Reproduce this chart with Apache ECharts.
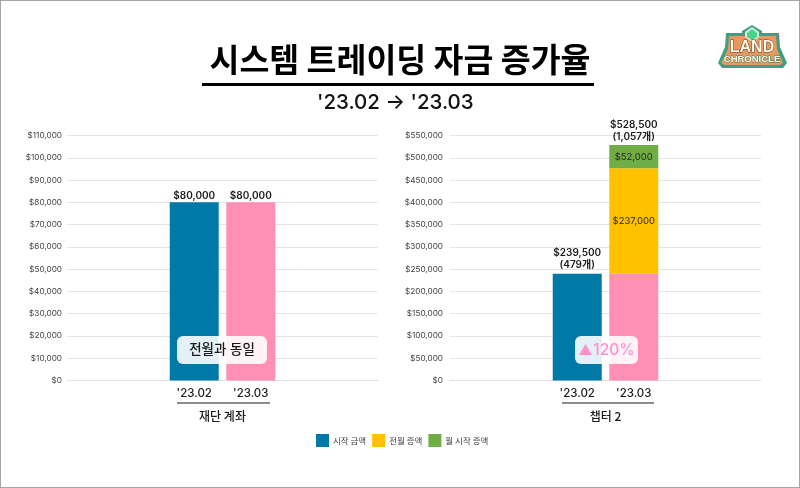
<!DOCTYPE html>
<html>
<head>
<meta charset="utf-8">
<style>
html, body { margin: 0; padding: 0; background: #fff; }
#main { width: 800px; height: 488px; }
#frame { position: absolute; left: 0; top: 0; width: 800px; height: 488px; box-sizing: border-box; border: 1px solid #a6a6a6; pointer-events: none; }
</style>
<script src="https://cdn.jsdelivr.net/npm/echarts@6/dist/echarts.min.js"></script>
</head>
<body>
<div id="main"></div>
<div id="frame"></div>
<script>
var FONT = 'Inter, "Noto Sans CJK KR", sans-serif';
var KR = '"Noto Sans CJK KR", sans-serif';

var months = ["'23.02", "'23.03"];
var groupNames = ['재단 계좌', '챕터 2'];
var legendNames = ['시작 금액', '전월 증액', '월 시작 증액'];

// left chart
var fundStart = [80000, 80000];
var fundPrev = [0, 0];
var fundNew = [0, 0];
var fundTotals = [80000, 80000];

// right chart
var chapterStart = [239500, 239500];
var chapterPrev = [0, 237000];
var chapterNew = [0, 52000];
var chapterTotals = [239500, 528500];
var chapterCounts = [479, 1057];

var fundMax = 110000, fundStep = 10000;
var chapterMax = 550000, chapterStep = 50000;

var BLUE = '#0079a6', PINK = '#ff8fb5', YELLOW = '#ffc000', GREEN = '#70ad47';

// 11 slots per grid, the two bars sit on slots 4 and 6
var SLOTS = 11, FIRST = 4, SECOND = 6;
function pad(arr, empty) {
    var out = [];
    for (var i = 0; i < SLOTS; i++) out.push(empty);
    out[FIRST] = arr[0];
    out[SECOND] = arr[1];
    return out;
}
function money(v) {
    return '$' + Number(v).toLocaleString('en-US');
}
function segLabel(params) {
    return params.value ? money(params.value) : '';
}

function xAxisFor(idx, name) {
    return {
        type: 'category',
        gridIndex: idx,
        data: pad(months, ''),
        axisLine: { lineStyle: { color: '#e2e2e2', width: 1 } },
        axisTick: { show: false },
        axisLabel: { interval: 0, color: '#1a1a1a', fontSize: 11.5, fontFamily: FONT, fontWeight: 500, margin: 7 },
        name: name,
        nameLocation: 'middle',
        nameGap: 30,
        nameTextStyle: { color: '#1a1a1a', fontSize: 12, fontFamily: KR, fontWeight: 500 }
    };
}
function yAxisFor(idx, max, step, gap) {
    return {
        type: 'value',
        gridIndex: idx,
        min: 0,
        max: max,
        interval: step,
        axisLine: { show: false },
        axisTick: { show: false },
        axisLabel: { color: '#404040', fontSize: 8.2, fontFamily: FONT, margin: gap, formatter: money },
        splitLine: { lineStyle: { color: '#e4e4e4', width: 1 } }
    };
}
function seriesFor(idx, start, prev, added, totals, totalLabel, shift) {
    var startData = pad(start, null);
    startData[SECOND] = { value: start[1], itemStyle: { color: PINK } };
    var common = { type: 'bar', stack: 'g' + idx, xAxisIndex: idx, yAxisIndex: idx, barWidth: 49 };
    var inner = { show: true, position: 'inside', color: '#262626', fontSize: 9.5, fontFamily: FONT, formatter: segLabel };
    return [
        Object.assign({}, common, { name: legendNames[0], data: startData, itemStyle: { color: BLUE } }),
        Object.assign({}, common, { name: legendNames[1], data: pad(prev, null), itemStyle: { color: YELLOW }, label: inner }),
        Object.assign({}, common, { name: legendNames[2], data: pad(added, null), itemStyle: { color: GREEN }, label: inner }),
        {
            name: 'total' + idx,
            type: 'line',
            xAxisIndex: idx,
            yAxisIndex: idx,
            data: pad(totals, null),
            symbol: 'circle',
            symbolSize: 1,
            showAllSymbol: true,
            itemStyle: { color: 'transparent' },
            lineStyle: { opacity: 0 },
            silent: true,
            label: { show: true, position: 'top', distance: 2, offset: [0, shift], color: '#1a1a1a', fontSize: 10, fontWeight: 600, lineHeight: 12, fontFamily: FONT, formatter: totalLabel }
        }
    ];
}
function fundTotalLabel(params) {
    return money(params.value);
}
function chapterTotalLabel(params) {
    var i = params.dataIndex === FIRST ? 0 : 1;
    return money(params.value) + '\n(' + chapterCounts[i].toLocaleString('en-US') + '개)';
}

function badge(x, y, w, h) {
    return { type: 'rect', z: 50, shape: { x: x, y: y, width: w, height: h, r: 6 }, style: { fill: 'rgba(255,255,255,0.89)' } };
}
function badgeText(x, y, text, color, size) {
    return { type: 'text', z: 51, x: x, y: y, style: { text: text, fill: color, font: '500 ' + size + 'px ' + FONT, align: 'center', verticalAlign: 'middle' } };
}
function bracket(x1, x2, y) {
    return { type: 'line', z: 20, shape: { x1: x1, y1: y, x2: x2, y2: y }, style: { stroke: '#1a1a1a', lineWidth: 1.2 } };
}
function logo() {
    var logoFont = '"Liberation Sans", sans-serif';
    return {
        type: 'group', x: 718, y: 25, z: 30,
        children: [
            { type: 'polygon', shape: { points: [[34, 0], [44, 6], [44, 8], [61, 8], [62, 22], [69, 38], [65, 43], [4, 43], [0, 38], [7, 22], [8, 8], [24, 8], [24, 6]] }, style: { fill: '#3f9f80' } },
            { type: 'polygon', shape: { points: [[11, 11], [58, 11], [59, 24], [65, 38], [62, 40], [7, 40], [3, 38], [10, 24]] }, style: { fill: '#e59a62' } },
            { type: 'polygon', shape: { points: [[34, 2], [41, 7], [41, 12], [34, 17], [27, 12], [27, 7]] }, style: { fill: '#d9efe3' } },
            { type: 'polygon', shape: { points: [[34, 4], [39, 8], [39, 12], [34, 15], [29, 12], [29, 8]] }, style: { fill: '#45d68a' } },
            { type: 'text', x: 34, y: 23, style: { text: 'LAND', fill: '#fff8e6', stroke: '#5a3a28', lineWidth: 1, font: '900 16px ' + logoFont, align: 'center', verticalAlign: 'middle' } },
            { type: 'text', x: 34, y: 34, style: { text: 'CHRONICLE', fill: '#fff8e6', stroke: '#2f7d64', lineWidth: 0.8, font: '900 9.5px ' + logoFont, align: 'center', verticalAlign: 'middle' } }
        ]
    };
}

var chart = echarts.init(document.getElementById('main'));
chart.setOption({
    animation: false,
    backgroundColor: '#fff',
    title: [
        { text: '시스템 트레이딩 자금 증가율', left: 'center', top: 38, textStyle: { fontFamily: KR, fontSize: 32.5, fontWeight: 700, color: '#000' } },
        { text: "'23.02 → '23.03", left: 312, top: 88, textStyle: { fontFamily: FONT, fontSize: 20.5, fontWeight: 500, color: '#111' } }
    ],
    grid: [
        { left: 67, width: 311, top: 135.5, height: 245 },
        { left: 450, width: 311, top: 135.5, height: 245 }
    ],
    xAxis: [xAxisFor(0, groupNames[0]), xAxisFor(1, groupNames[1])],
    yAxis: [yAxisFor(0, fundMax, fundStep, 5), yAxisFor(1, chapterMax, chapterStep, 7)],
    legend: {
        data: legendNames,
        left: 316,
        top: 434,
        padding: 0,
        itemWidth: 13,
        itemHeight: 13,
        itemGap: 6,
        icon: 'rect',
        textStyle: { fontFamily: KR, fontSize: 8.5, color: '#404040', padding: [0, 0, 0, -1] }
    },
    series: seriesFor(0, fundStart, fundPrev, fundNew, fundTotals, fundTotalLabel, 2)
        .concat(seriesFor(1, chapterStart, chapterPrev, chapterNew, chapterTotals, chapterTotalLabel, 0)),
    graphic: [
        { type: 'rect', z: 20, shape: { x: 202, y: 83, width: 392, height: 3 }, style: { fill: '#000' } },
        bracket(177, 270, 403),
        bracket(562, 654, 403),
        logo(),
        badge(177, 336, 90, 28),
        badgeText(222, 350, '전월과 동일', '#1a1a1a', 13.5),
        badge(575, 336, 63, 28),
        { type: 'polygon', z: 51, shape: { points: [[579, 355], [592, 355], [585.5, 344]] }, style: { fill: '#ff90d0' } },
        badgeText(614, 350, '120%', '#ff90d0', 15.5)
    ]
});
</script>
</body>
</html>
